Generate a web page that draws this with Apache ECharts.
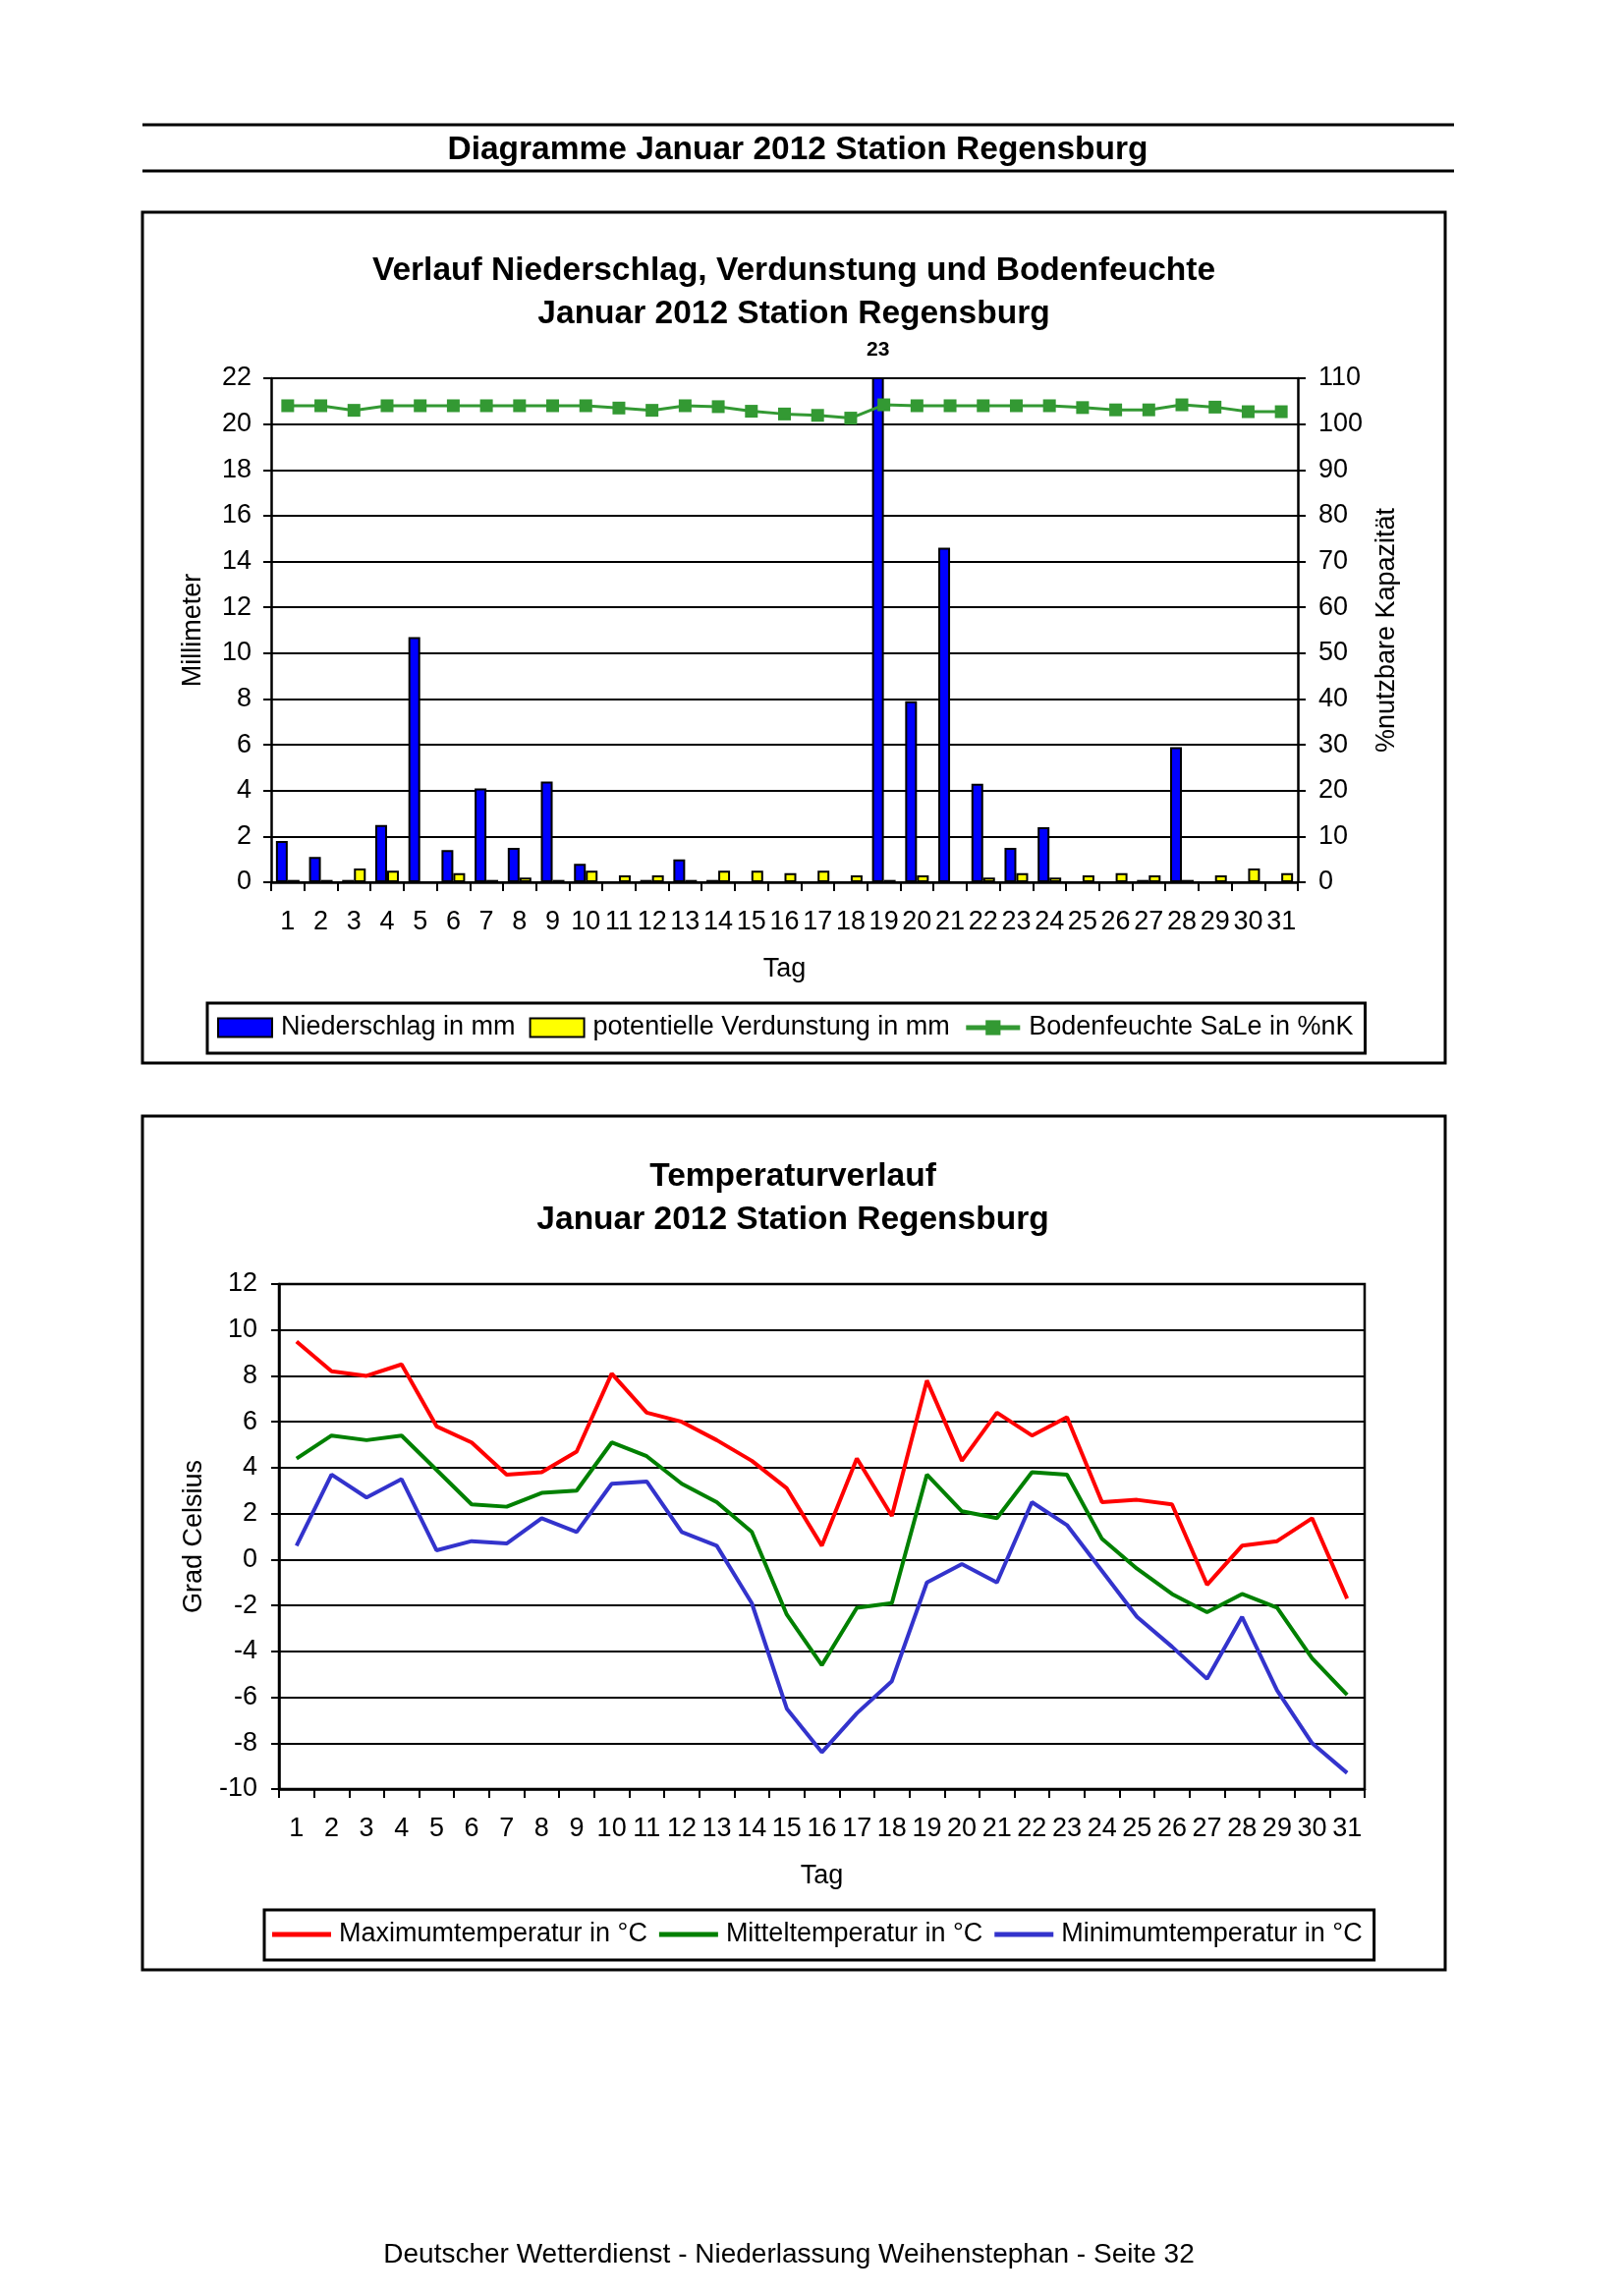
<!DOCTYPE html>
<html>
<head>
<meta charset="utf-8">
<script src="https://cdn.jsdelivr.net/npm/echarts@6/dist/echarts.min.js"></script>
<style>
html,body{margin:0;padding:0;background:#fff;}
#main{width:1653px;height:2337px;}
</style>
</head>
<body>
<div id="main"></div>
<script>
// ---- data ----
const days = ['1','2','3','4','5','6','7','8','9','10','11','12','13','14','15','16','17','18','19','20','21','22','23','24','25','26','27','28','29','30','31'];
const niederschlag = [1.8,1.1,0.1,2.5,10.7,1.4,4.1,1.5,4.4,0.8,0,0.1,1.0,0.1,0,0,0,0,23,7.9,14.6,4.3,1.5,2.4,0,0,0.1,5.9,0,0,0];
const verdunstung = [0.1,0.1,0.6,0.5,0,0.4,0.1,0.2,0.1,0.5,0.3,0.3,0.1,0.5,0.5,0.4,0.5,0.3,0.1,0.3,0,0.2,0.4,0.2,0.3,0.4,0.3,0.1,0.3,0.6,0.4];
const bodenfeuchte = [104,104,103,104,104,104,104,104,104,104,103.5,103,104,103.8,102.8,102.2,101.9,101.3,104.2,104,104,104,104,104,103.6,103.1,103.1,104.2,103.7,102.7,102.7];
const tMax = [9.5,8.2,8.0,8.5,5.8,5.1,3.7,3.8,4.7,8.1,6.4,6.0,5.2,4.3,3.1,0.6,4.4,1.9,7.8,4.3,6.4,5.4,6.2,2.5,2.6,2.4,-1.1,0.6,0.8,1.8,-1.7];
const tMit = [4.4,5.4,5.2,5.4,3.9,2.4,2.3,2.9,3.0,5.1,4.5,3.3,2.5,1.2,-2.4,-4.6,-2.1,-1.9,3.7,2.1,1.8,3.8,3.7,0.9,-0.4,-1.5,-2.3,-1.5,-2.1,-4.3,-5.9];
const tMin = [0.6,3.7,2.7,3.5,0.4,0.8,0.7,1.8,1.2,3.3,3.4,1.2,0.6,-1.9,-6.5,-8.4,-6.7,-5.3,-1.0,-0.2,-1.0,2.5,1.5,-0.5,-2.5,-3.8,-5.2,-2.5,-5.7,-8.0,-9.3];
const mmTicks = {min: 0, max: 22, interval: 2};
const pctTicks = {min: 0, max: 110, interval: 10};
const tempTicks = {min: -10, max: 12, interval: 2};

const FONT = '"Liberation Sans", Arial, Helvetica, sans-serif';
const chart = echarts.init(document.getElementById('main'), null, {renderer: 'canvas'});

function gtext(text, x, y, size, bold) {
  return {
    type: 'text', x: x, y: y, silent: true,
    style: {
      text: text, fill: '#000',
      font: (bold ? 'bold ' : '') + size + 'px ' + FONT,
      textAlign: 'center', textVerticalAlign: 'middle',
      align: 'center', verticalAlign: 'middle'
    }
  };
}
function gline(x1, y1, x2, y2, w) {
  return {type: 'line', silent: true, shape: {x1: x1, y1: y1, x2: x2, y2: y2}, style: {stroke: '#000', lineWidth: w}};
}
function grect(x, y, w, h) {
  return {type: 'rect', silent: true, shape: {x: x, y: y, width: w, height: h}, style: {fill: 'none', stroke: '#000', lineWidth: 3}};
}

const axisLbl = {fontSize: 27, color: '#000', fontFamily: FONT};
const nameStyle = {fontSize: 27, color: '#000', fontFamily: FONT};

function catAxis(gi) {
  return {
    gridIndex: gi, type: 'category', data: days,
    axisLine: {show: true, onZero: false, lineStyle: {color: '#000', width: 2.5}},
    axisTick: {show: true, length: 9, lineStyle: {color: '#000', width: 2}},
    axisLabel: Object.assign({interval: 0, margin: 27, hideOverlap: false}, axisLbl),
    splitLine: {show: false},
    name: 'Tag', nameLocation: 'middle', nameGap: 75, nameTextStyle: nameStyle
  };
}
function barData(arr) {
  return arr.map(function (v) {
    if (v > mmTicks.max) {
      return {value: v, label: {show: true, position: 'top', distance: 17, fontSize: 21, fontWeight: 'bold', color: '#000', fontFamily: FONT}};
    }
    if (v === 0) {
      return {value: v, itemStyle: {borderWidth: 0}};
    }
    return v;
  });
}

const option = {
  animation: false,
  backgroundColor: '#ffffff',
  textStyle: {fontFamily: FONT, color: '#000'},
  graphic: [
    gline(145, 127, 1480, 127, 3),
    gline(145, 174, 1480, 174, 3),
    gtext('Diagramme Januar 2012 Station Regensburg', 812, 153, 33.5, true),
    grect(145, 216, 1326, 866),
    gtext('Verlauf Niederschlag, Verdunstung und Bodenfeuchte', 808, 276, 33.5, true),
    gtext('Januar 2012 Station Regensburg', 808, 320, 33.5, true),
    grect(145, 1136, 1326, 869),
    gtext('Temperaturverlauf', 807, 1198, 33.5, true),
    gtext('Januar 2012 Station Regensburg', 807, 1242, 33.5, true),
    gtext('Deutscher Wetterdienst - Niederlassung Weihenstephan - Seite 32', 803, 2295, 28, false)
  ],
  grid: [
    {left: 276, top: 385, width: 1045, height: 513},
    {left: 284, top: 1307, width: 1105, height: 514, show: true, borderColor: '#000', borderWidth: 2.5, backgroundColor: 'transparent'}
  ],
  legend: [
    {
      data: [
        {name: 'Niederschlag in mm', icon: 'rect'},
        {name: 'potentielle Verdunstung in mm', icon: 'rect'},
        {name: 'Bodenfeuchte SaLe in %nK', lineStyle: {width: 5, color: '#339933'}}
      ],
      left: 211, top: 1021, orient: 'horizontal',
      padding: [10, 12, 11, 10], itemGap: 14, itemWidth: 55, itemHeight: 19,
      borderColor: '#000', borderWidth: 3, backgroundColor: '#fff',
      textStyle: {fontSize: 27, color: '#000', fontFamily: FONT, padding: [0, 0, 0, 4], lineHeight: 30},
      selectedMode: false
    },
    {
      data: [
        {name: 'Maximumtemperatur in °C', icon: 'rect'},
        {name: 'Mitteltemperatur in °C', icon: 'rect'},
        {name: 'Minimumtemperatur in °C', icon: 'rect'}
      ],
      left: 269, top: 1944, orient: 'horizontal',
      padding: [10, 12, 11, 8], itemGap: 12, itemWidth: 60, itemHeight: 5,
      borderColor: '#000', borderWidth: 3, backgroundColor: '#fff',
      textStyle: {fontSize: 27, color: '#000', fontFamily: FONT, padding: [0, 0, 0, 3], lineHeight: 30},
      selectedMode: false
    }
  ],
  xAxis: [catAxis(0), catAxis(1)],
  yAxis: [
    {
      gridIndex: 0, type: 'value', min: mmTicks.min, max: mmTicks.max, interval: mmTicks.interval,
      axisLine: {show: true, lineStyle: {color: '#000', width: 2.5}},
      axisTick: {show: true, length: 8, lineStyle: {color: '#000', width: 2}},
      axisLabel: Object.assign({margin: 20}, axisLbl),
      splitLine: {show: true, lineStyle: {color: '#000', width: 2.2}},
      name: 'Millimeter', nameLocation: 'middle', nameRotate: 90, nameGap: 66, nameTextStyle: nameStyle
    },
    {
      gridIndex: 0, type: 'value', position: 'right', min: pctTicks.min, max: pctTicks.max, interval: pctTicks.interval,
      axisLine: {show: true, lineStyle: {color: '#000', width: 2.5}},
      axisTick: {show: true, length: 8, lineStyle: {color: '#000', width: 2}},
      axisLabel: Object.assign({margin: 21}, axisLbl),
      splitLine: {show: false},
      name: '%nutzbare Kapazität', nameLocation: 'middle', nameRotate: 90, nameGap: 74, nameTextStyle: nameStyle
    },
    {
      gridIndex: 1, type: 'value', min: tempTicks.min, max: tempTicks.max, interval: tempTicks.interval,
      axisLine: {show: true, onZero: false, lineStyle: {color: '#000', width: 2.5}},
      axisTick: {show: true, length: 8, lineStyle: {color: '#000', width: 2}},
      axisLabel: Object.assign({margin: 22}, axisLbl),
      splitLine: {show: true, lineStyle: {color: '#000', width: 2.2}},
      name: 'Grad Celsius', nameLocation: 'middle', nameRotate: 90, nameGap: 73, nameTextStyle: nameStyle
    }
  ],
  series: [
    {
      name: 'Niederschlag in mm', type: 'bar', xAxisIndex: 0, yAxisIndex: 0,
      barWidth: 12, barGap: '0%', clip: true,
      itemStyle: {color: '#0000FF', borderColor: '#000', borderWidth: 2},
      data: barData(niederschlag), z: 2
    },
    {
      name: 'potentielle Verdunstung in mm', type: 'bar', xAxisIndex: 0, yAxisIndex: 0,
      barWidth: 12, barGap: '0%',
      itemStyle: {color: '#FFFF00', borderColor: '#000', borderWidth: 2},
      data: barData(verdunstung), z: 2
    },
    {
      name: 'Bodenfeuchte SaLe in %nK', type: 'line', xAxisIndex: 0, yAxisIndex: 1,
      symbol: 'rect', symbolSize: 13, showSymbol: true,
      itemStyle: {color: '#339933'},
      lineStyle: {color: '#339933', width: 3},
      data: bodenfeuchte, z: 5
    },
    {
      name: 'Maximumtemperatur in °C', type: 'line', xAxisIndex: 1, yAxisIndex: 2,
      symbol: 'none', itemStyle: {color: '#FF0000'}, lineStyle: {color: '#FF0000', width: 4},
      data: tMax, z: 5
    },
    {
      name: 'Mitteltemperatur in °C', type: 'line', xAxisIndex: 1, yAxisIndex: 2,
      symbol: 'none', itemStyle: {color: '#008000'}, lineStyle: {color: '#008000', width: 4},
      data: tMit, z: 5
    },
    {
      name: 'Minimumtemperatur in °C', type: 'line', xAxisIndex: 1, yAxisIndex: 2,
      symbol: 'none', itemStyle: {color: '#3333CC'}, lineStyle: {color: '#3333CC', width: 4},
      data: tMin, z: 5
    }
  ]
};
chart.setOption(option);
</script>
</body>
</html>
